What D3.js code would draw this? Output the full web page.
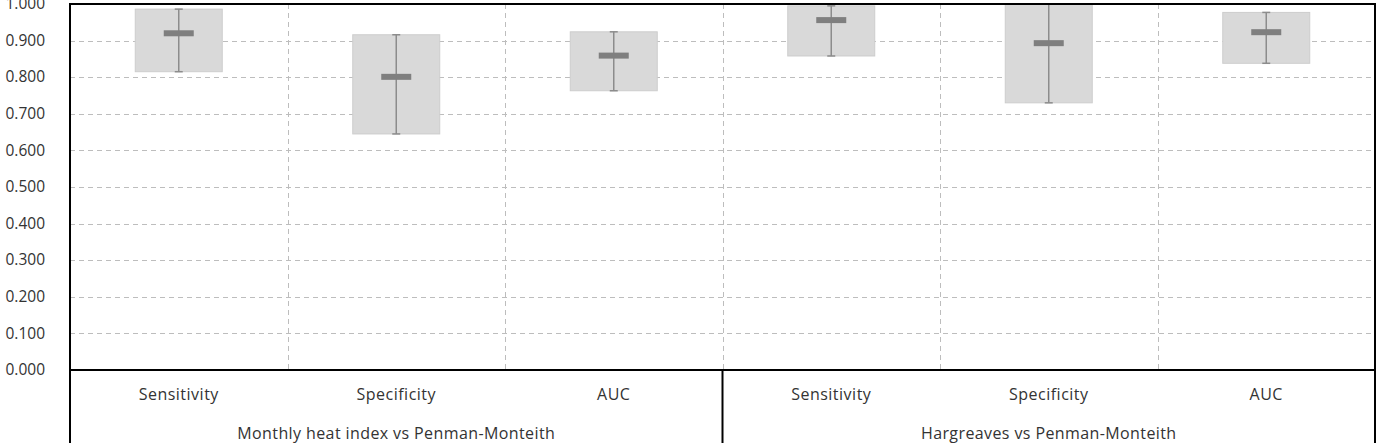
<!DOCTYPE html>
<html lang="en">
<head>
  <meta charset="UTF-8">
  <title>Sensitivity / Specificity / AUC</title>
  <script src="https://cdn.jsdelivr.net/npm/d3@7"></script>
  <style>
    body {
      margin: 0;
      background: #fff;
      overflow: hidden;
    }

    #chart text {
      font-family: "Open Sans", "Lato", sans-serif;
      fill: #333;
    }
  </style>
</head>
<body>
<svg id="chart" width="1389" height="443"></svg>
<script>
  let groups = ["Monthly heat index vs Penman-Monteith", "Hargreaves vs Penman-Monteith"];
  let metrics = ["Sensitivity", "Specificity", "AUC"];
  let lowVals = [0.815, 0.645, 0.763, 0.858, 0.730, 0.838];
  let highVals = [0.986, 0.916, 0.924, 0.995, 1.000, 0.977];
  let midVals = [0.920, 0.801, 0.859, 0.956, 0.893, 0.923];
  let yTicks = [0, 0.1, 0.2, 0.3, 0.4, 0.5, 0.6, 0.7, 0.8, 0.9, 1.0];

  let padL = 70, padR = 1375, padT = 4, padB = 370;

  let cats = [];
  groups.forEach((g, gi) => metrics.forEach((m, mi) => {
    let i = gi * metrics.length + mi;
    cats.push({id: i, group: g, metric: m, low: lowVals[i], high: highVals[i], mid: midVals[i]});
  }));

  let svg = d3.select("#chart");

  let x = d3.scaleBand().domain(cats.map(d => d.id)).range([padL, padR]).padding(0);
  let y = d3.scaleLinear().domain([0, 1]).range([padB, padT]);
  let gx = d3.scaleBand().domain(groups).range([padL, padR]);

  // grid
  let grid = svg.append("g");
  grid.selectAll("line.h")
      .data(yTicks.slice(1, -1))
      .join("line")
      .attr("x1", padL).attr("x2", padR)
      .attr("y1", d => Math.round(y(d)) + 0.5).attr("y2", d => Math.round(y(d)) + 0.5)
      .attr("stroke", "#bdbdbd")
      .attr("stroke-dasharray", "5,4");
  grid.selectAll("line.v")
      .data(cats.slice(1))
      .join("line")
      .attr("x1", d => Math.round(x(d.id)) + 0.5).attr("x2", d => Math.round(x(d.id)) + 0.5)
      .attr("y1", padT).attr("y2", padB)
      .attr("stroke", "#bdbdbd")
      .attr("stroke-dasharray", "5,4");

  // y axis labels
  let yAxis = d3.axisLeft(y).tickValues(yTicks).tickFormat(d3.format(".3f")).tickSize(0).tickPadding(25);
  svg.append("g")
      .attr("transform", `translate(${padL},0)`)
      .call(yAxis)
      .call(g => g.select(".domain").remove())
      .call(g => g.selectAll("text").style("font-size", "15.5px").attr("dy", "0.3em"));

  // boxes
  let bw = x.bandwidth() * 0.4;
  let boxes = svg.append("g").selectAll("g")
      .data(cats)
      .join("g");

  boxes.append("rect")
      .attr("x", d => x(d.id) + x.bandwidth() / 2 - bw / 2)
      .attr("width", bw)
      .attr("y", d => y(d.high))
      .attr("height", d => y(d.low) - y(d.high))
      .attr("fill", "#d9d9d9")
      .attr("stroke", "#cdcdcd")
      .attr("stroke-width", 1);

  boxes.append("line")
      .attr("x1", d => x(d.id) + x.bandwidth() / 2).attr("x2", d => x(d.id) + x.bandwidth() / 2)
      .attr("y1", d => y(d.high)).attr("y2", d => y(d.low))
      .attr("stroke", "#8c8c8c")
      .attr("stroke-width", 1.5);

  ["high", "low"].forEach(k => {
    boxes.append("line")
        .attr("x1", d => x(d.id) + x.bandwidth() / 2 - 4).attr("x2", d => x(d.id) + x.bandwidth() / 2 + 4)
        .attr("y1", d => y(d[k])).attr("y2", d => y(d[k]))
        .attr("stroke", "#8c8c8c")
        .attr("stroke-width", 1.5);
  });

  boxes.append("rect")
      .attr("x", d => x(d.id) + x.bandwidth() / 2 - 15)
      .attr("width", 30)
      .attr("y", d => y(d.mid) - 3)
      .attr("height", 6)
      .attr("fill", "#7f7f7f");

  // frame
  let frame = svg.append("g").attr("stroke", "#000").attr("stroke-width", 2).attr("fill", "none");
  frame.append("rect")
      .attr("x", padL).attr("y", padT)
      .attr("width", padR - padL).attr("height", padB - padT);
  frame.selectAll("line.sep")
      .data([padL, gx(groups[1]), padR])
      .join("line")
      .attr("x1", d => d).attr("x2", d => d)
      .attr("y1", padB).attr("y2", 445);

  // category labels
  svg.append("g").selectAll("text")
      .data(cats)
      .join("text")
      .attr("x", d => x(d.id) + x.bandwidth() / 2)
      .attr("y", 400)
      .attr("text-anchor", "middle")
      .style("font-size", "16px")
      .style("letter-spacing", "0.5px")
      .text(d => d.metric);

  svg.append("g").selectAll("text")
      .data(groups)
      .join("text")
      .attr("x", d => gx(d) + gx.bandwidth() / 2)
      .attr("y", 439)
      .attr("text-anchor", "middle")
      .style("font-size", "16px")
      .style("letter-spacing", "0.4px")
      .text(d => d);
</script>
</body>
</html>
